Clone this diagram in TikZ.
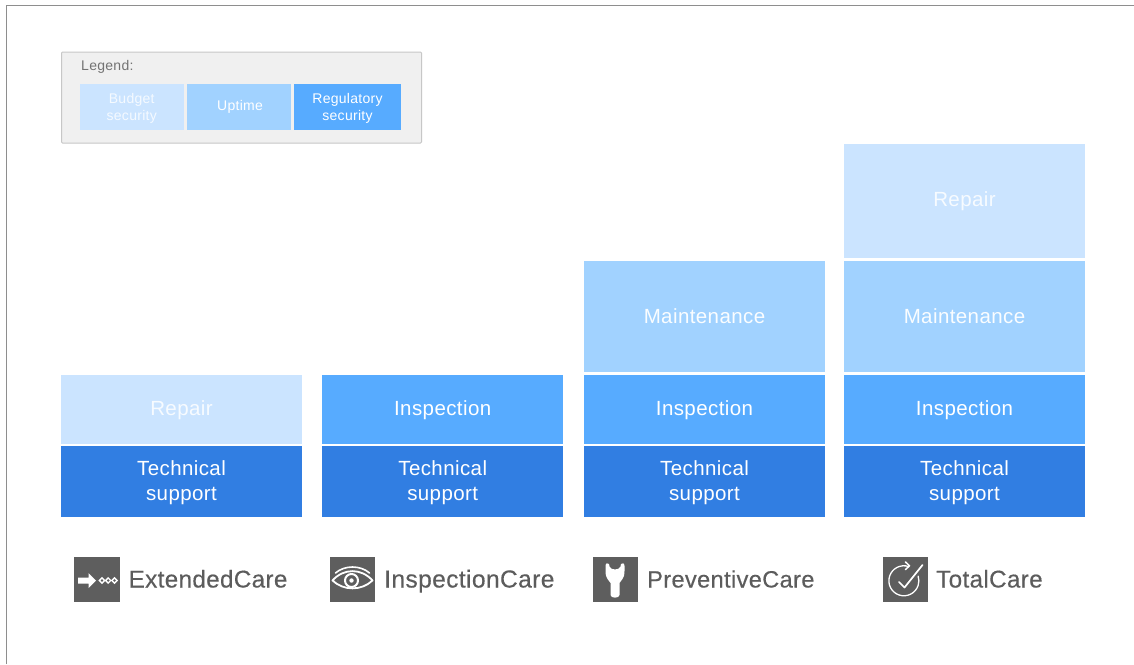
\documentclass[tikz,border=0pt]{standalone}
\usepackage{fontspec}
\setmainfont{Liberation Sans}
\newfontfamily\spacedfont[LetterSpace=2]{Liberation Sans}
\newfontfamily\carefont[LetterSpace=1.5,FakeBold=0.3]{Liberation Sans}
\definecolor{cRepair}{HTML}{CBE4FF}
\definecolor{cMaint}{HTML}{A1D2FF}
\definecolor{cInsp}{HTML}{57ABFF}
\definecolor{cTech}{HTML}{317EE2}
\definecolor{cIcon}{HTML}{5E5E5E}
\definecolor{cText}{HTML}{5C5C5C}
\definecolor{cFrame}{HTML}{8E8E8E}
\tikzset{
  x=1pt,y=-1pt,
  block/.style={inner sep=0pt,outer sep=0pt,minimum width=241pt,text=white,align=center,font=\spacedfont\fontsize{20.5}{25}\selectfont},
  repairb/.style={block,fill=cRepair,text=white!85!cRepair},
  maintb/.style={block,fill=cMaint,text=white!95!cMaint},
  inspb/.style={block,fill=cInsp},
  techb/.style={block,fill=cTech},
  techl/.style={inner sep=0pt,outer sep=0pt,text=white,align=center,yshift=-1.3pt,font=\spacedfont\fontsize{20.5}{25}\selectfont},
  rowl/.style={techl,yshift=0.3pt},
  legb/.style={inner sep=0pt,outer sep=0pt,minimum height=46pt},
  legl/.style={inner sep=0pt,outer sep=0pt,text=white,align=center,yshift=-1.3pt,font=\spacedfont\fontsize{14}{17}\selectfont},
  iconbox/.style={fill=cIcon,inner sep=0pt,outer sep=0pt,minimum width=45.5pt,minimum height=45.5pt},
  care/.style={anchor=base west,inner sep=0pt,text=cText,font=\carefont\fontsize{#1}{28}\selectfont},
  glyph/.style={draw=white,line width=1.6pt,line cap=round,line join=round},
}
\begin{document}
\begin{tikzpicture}
\useasboundingbox (0,0) rectangle (1134,664);
\fill[white] (0,0) rectangle (1134,664);
\draw[cFrame,line width=1pt] (6,664) -- (6,5.5) -- (1134,5.5);
% legend
\node[draw=black!22,fill=black!6,line width=1pt,rounded corners=1pt,inner sep=0pt,outer sep=0pt,minimum width=360pt,minimum height=91pt] (legend) at (241.5,97.5) {};
\node[anchor=base west,inner sep=0pt,text=black!55,font=\spacedfont\fontsize{14}{16}\selectfont] (legt) at (81,70) {Legend:};
\node[legb,fill=cRepair,minimum width=104.5pt,label={[legl,text=white!80!cRepair]center:Budget\\security}] (lb) at (131.75,107) {};
\node[legb,fill=cMaint,minimum width=104.5pt,label={[legl,yshift=1.3pt,xshift=1pt]center:Uptime}] (lu) at (239,107) {};
\node[legb,fill=cInsp,minimum width=107pt,label={[legl]center:Regulatory\\security}] (lr) at (347.5,107) {};
% column 1
\node[techb,minimum height=71pt,label={[techl]center:Technical\\support}] (t1) at (181.5,481.5) {};
\node[repairb,minimum height=69pt,label={[rowl,text=white!85!cRepair]center:Repair}] (r1) at (181.5,409) {};
% column 2
\node[techb,minimum height=71pt,label={[techl]center:Technical\\support}] (t2) at (442.7,481.5) {};
\node[inspb,minimum height=69pt,label={[rowl]center:Inspection}] (i2) at (442.7,409) {};
% column 3
\node[techb,minimum height=71pt,label={[techl]center:Technical\\support}] (t3) at (704.5,481.5) {};
\node[inspb,minimum height=69pt,label={[rowl]center:Inspection}] (i3) at (704.5,409) {};
\node[maintb,minimum height=111.5pt] (m3) at (704.5,316.5) {Maintenance};
% column 4
\node[techb,minimum height=71pt,label={[techl]center:Technical\\support}] (t4) at (964.5,481.5) {};
\node[inspb,minimum height=69pt,label={[rowl]center:Inspection}] (i4) at (964.5,409) {};
\node[maintb,minimum height=111.5pt] (m4) at (964.5,316.5) {Maintenance};
\node[repairb,minimum height=114.5pt] (r4) at (964.5,200.75) {Repair};
% icons
\node[iconbox] (ic1) at (97,579.5) {};
\node[iconbox] (ic2) at (352.5,579.5) {};
\node[iconbox] (ic3) at (615.5,579.5) {};
\node[iconbox] (ic4) at (905.5,579.5) {};
% labels
\node[care=24.2] (c1) at (128.5,587.5) {ExtendedCare};
\node[care=24.6] (c2) at (384,587.5) {InspectionCare};
\node[care=23.6] (c3) at (647,587.5) {PreventiveCare};
\node[care=24.2] (c4) at (936,587.5) {TotalCare};
% icon 1: arrow and diamonds
\fill[white] (78,577.5) -- (88.5,577.5) -- (88.5,573) -- (96,580.5) -- (88.5,588) -- (88.5,583.5) -- (78,583.5) -- cycle;
\foreach \xx in {102,108.2,114.5}{
  \draw[white,line width=1.3pt] (\xx-2.6,580.5) -- (\xx,577.9) -- (\xx+2.6,580.5) -- (\xx,583.1) -- cycle;
}
% icon 2: eye
\begin{scope}[shift={(352.5,580)}]
\draw[glyph,line width=1.8pt] (-20,0.5) .. controls (-9,-12) and (9,-12) .. (20,0.5) .. controls (9,11) and (-9,11) .. (-20,0.5) -- cycle;
\draw[glyph,line width=1.6pt] (-17,-7) .. controls (-8,-15) and (8,-15) .. (17,-7);
\draw[glyph,line width=2pt] (-1,0.5) circle (6.5);
\fill[white] (-1,0.5) circle (2.2);
\end{scope}
% icon 3: wrench
\begin{scope}[shift={(615,0)}]
\fill[white] (-4.5,583) -- (-4.5,595) .. controls (-4.5,598.5) and (4.5,598.5) .. (4.5,595) -- (4.5,583)
  .. controls (6,580) and (9.5,579) .. (9.5,571) -- (9.5,566)
  .. controls (9.5,563) and (7,562.5) .. (6,564) -- (5.5,566.5)
  .. controls (4,570.5) and (-4,570.5) .. (-5.5,566.5) -- (-6,564)
  .. controls (-7,562.5) and (-9.5,563) .. (-9.5,566) -- (-9.5,571)
  .. controls (-9.5,579) and (-6,580) .. (-4.5,583) -- cycle;
\end{scope}
% icon 4: check with circle arrow
\draw[glyph,line width=1.3pt] (908.5,566.5) arc[start angle=-72,end angle=-378,radius=15];
\draw[glyph,line width=1.5pt] (905.5,562) -- (909.5,565.8) -- (905.5,569.5);
\draw[glyph,line width=1.7pt] (899,582) -- (904.5,587.5) -- (922.5,565);
\end{tikzpicture}
\end{document}
